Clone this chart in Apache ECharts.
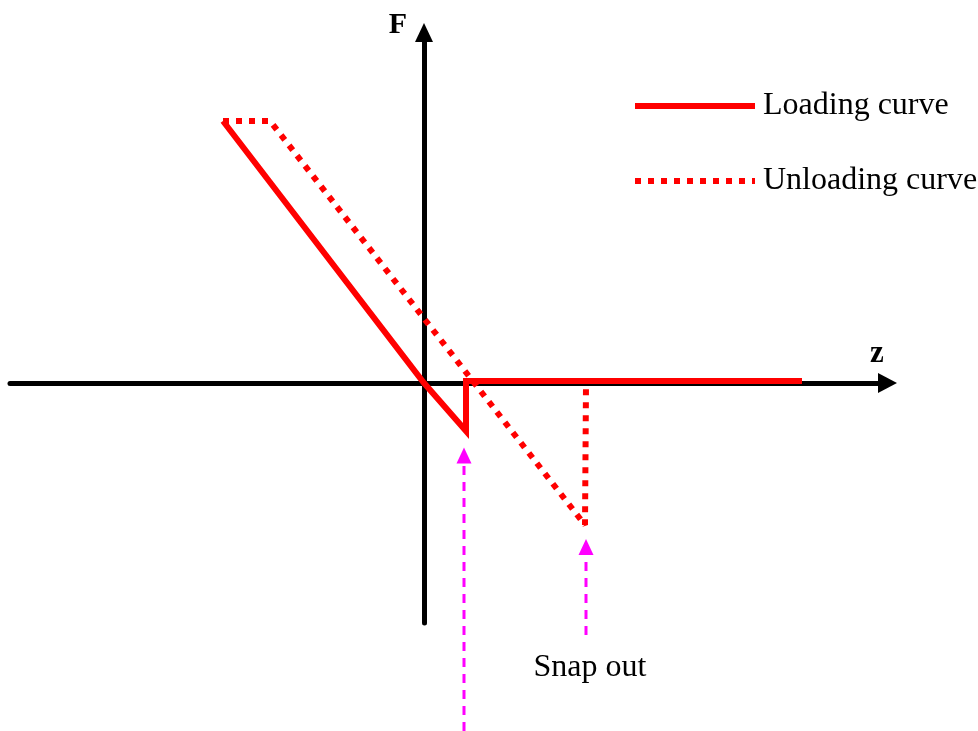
<!DOCTYPE html>
<html>
<head>
<meta charset="utf-8">
<script src="https://cdn.jsdelivr.net/npm/echarts@6/dist/echarts.min.js"></script>
<style>
  html, body { margin: 0; padding: 0; background: #fff; }
  #chart { width: 978px; height: 731px; }
</style>
</head>
<body>
<div id="chart"></div>
<script>
// axis extents (z to the right, F upwards), origin where the axes cross
var zRange = [-41.4, 46.35];
var fRange = [-24.0, 35.05];

// loading curve: linear branch, snap-in drop, then flat
var loadingCurve = [[-20.1, 26.2], [0, 0], [4.2, -4.8], [4.2, 0.2], [37.8, 0.2]];
// unloading curve: plateau, linear branch, snap-out jump back to zero
var unloadingCurve = [[-20.1, 26.2], [-15.4, 26.2], [16.1, -14.2], [16.2, -0.2]];

// annotation arrows (start below the curve, tip pointing up)
var snapInArrow = [[4.0, -34.8], [4.0, -7.25]];
var snapOutArrow = [[16.2, -25.2], [16.2, -16.4]];
var snapOutText = "Snap out";

var serif = "'Liberation Serif', 'Times New Roman', serif";

function arrowData(pts, startLabel) {
    var first = { value: pts[0] };
    if (startLabel) {
        first.symbol = 'circle';
        first.symbolSize = 1;
        first.itemStyle = { color: 'rgba(0,0,0,0)' };
        first.label = {
            show: true, position: 'bottom', distance: 16,
            formatter: startLabel, color: '#000',
            fontFamily: serif, fontSize: 32, offset: [4, 0]
        };
    }
    return [first, { value: pts[1], symbol: 'triangle', symbolSize: [15, 16] }];
}

var myChart = echarts.init(document.getElementById('chart'), null, { renderer: 'canvas' });

var option = {
    animation: false,
    backgroundColor: '#fff',
    grid: { left: 10, right: 90.5, top: 32.5, bottom: 108 },
    legend: {
        data: ['Loading curve', 'Unloading curve'],
        orient: 'vertical',
        left: 627, top: 85,
        itemWidth: 120, itemHeight: 30, itemGap: 43,
        textStyle: { color: '#000', fontFamily: serif, fontSize: 32, padding: [0, 0, 0, 3] },
        itemStyle: { opacity: 0 },
        lineStyle: { width: 'inherit' }
    },
    graphic: [
        // label of the horizontal axis, just above its arrow
        { type: 'text', x: 877, y: 354, silent: true,
          style: { text: 'z', fill: '#000', font: 'bold 31px ' + serif,
                   align: 'center', verticalAlign: 'middle' } }
    ],
    xAxis: {
        type: 'value', min: zRange[0], max: zRange[1],
        axisLine: { onZero: true, symbol: ['none', 'triangle'], symbolSize: [20, 19],
            lineStyle: { color: '#000', width: 5 } },
        axisTick: { show: false }, axisLabel: { show: false }, splitLine: { show: false }
    },
    yAxis: {
        type: 'value', min: fRange[0], max: fRange[1],
        name: 'F', nameLocation: 'end', nameGap: 7,
        nameTextStyle: {
            color: '#000', fontFamily: serif, fontWeight: 'bold', fontSize: 30,
            align: 'center', verticalAlign: 'middle', padding: [0, 52, 0, 0]
        },
        axisLine: { onZero: true, symbol: ['none', 'triangle'], symbolSize: [18, 19],
            lineStyle: { color: '#000', width: 5 } },
        axisTick: { show: false }, axisLabel: { show: false }, splitLine: { show: false }
    },
    series: [
        {
            name: 'Loading curve', type: 'line', data: loadingCurve,
            symbol: 'none', color: '#ff0000', z: 3,
            lineStyle: { color: '#ff0000', width: 6, type: 'solid', join: 'miter' }
        },
        {
            name: 'Unloading curve', type: 'line', data: unloadingCurve,
            symbol: 'none', color: '#ff0000', z: 4,
            lineStyle: { color: '#ff0000', width: 6, type: [6, 7] }
        },
        {
            name: 'snap in', type: 'line', data: arrowData(snapInArrow), clip: false,
            symbol: 'none', color: '#ff00ff',
            lineStyle: { color: '#ff00ff', width: 3, type: [9, 7] }
        },
        {
            name: 'snap out', type: 'line', data: arrowData(snapOutArrow, snapOutText), clip: false,
            symbol: 'none', color: '#ff00ff',
            lineStyle: { color: '#ff00ff', width: 3, type: [9, 7] }
        }
    ]
};

myChart.setOption(option);
</script>
</body>
</html>
